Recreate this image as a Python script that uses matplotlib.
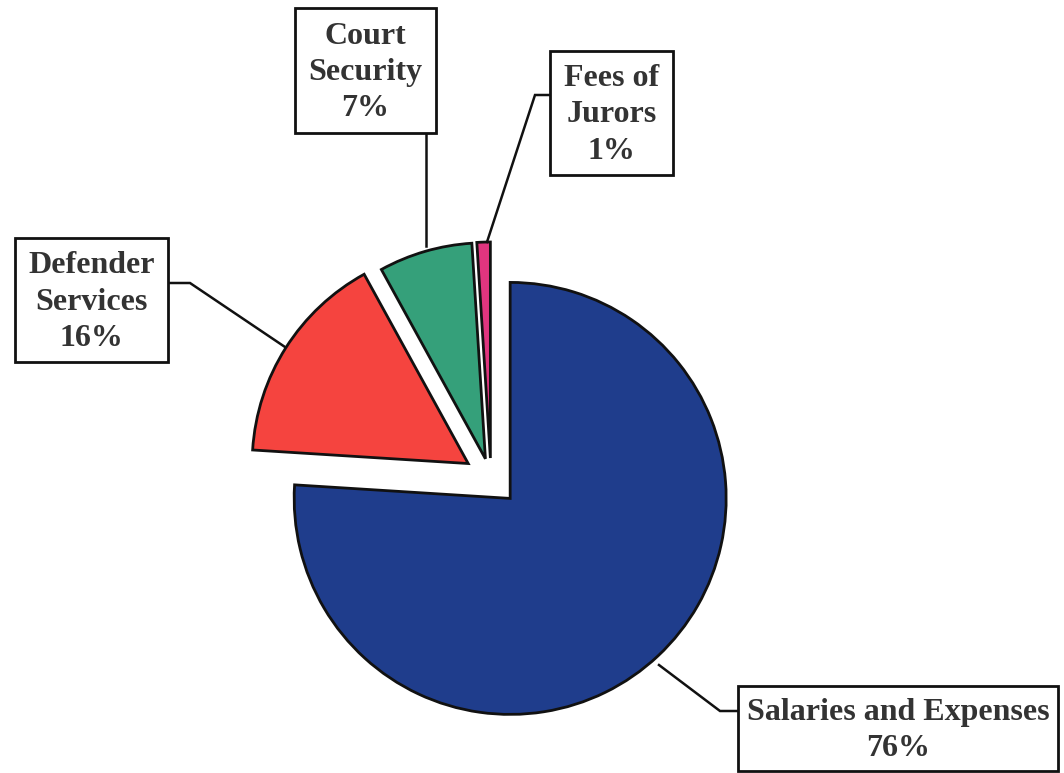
import matplotlib.pyplot as plt
from matplotlib.patches import Rectangle

W, H = 1064, 773

labels = ["Salaries and Expenses", "Defender\nServices", "Court\nSecurity", "Fees of\nJurors"]
shares = [76, 16, 7, 1]
colors = ["#1f3d8c", "#f5443f", "#35a07a", "#e0357f"]
explode = [28, 27, 20, 20]  # in pixels, pie does not scale it by radius

# label boxes in picture pixels: left, top, right, bottom
boxes = [(738, 686, 1058, 771), (15, 238, 168, 362), (295, 8, 436, 133), (550, 51, 673, 175)]
# leader lines in picture pixels
leaders = [
    [(738, 711), (720, 711), (659, 665)],
    [(168, 283), (190, 283), (285, 347)],
    [(426, 133), (426, 246)],
    [(550, 95), (535, 95), (487, 242)],
]


def py(y):
    return H - y


fig = plt.figure(figsize=(W / 100, H / 100), dpi=100)
ax = fig.add_axes([0, 0, 1, 1])

ax.pie(shares, colors=colors, startangle=90, counterclock=False,
       center=(491, py(478)), radius=216, explode=explode,
       wedgeprops=dict(edgecolor="#111111", linewidth=2))

for lab, s, (x0, y0, x1, y1), pts in zip(labels, shares, boxes, leaders):
    ax.plot([p[0] for p in pts], [py(p[1]) for p in pts], color="#111111", lw=1.8,
            solid_joinstyle="miter")
    ax.add_patch(Rectangle((x0, py(y1)), x1 - x0, y1 - y0, facecolor="white",
                           edgecolor="#111111", lw=2, zorder=3))
    ax.text((x0 + x1) / 2, py((y0 + y1) / 2 + 2), f"{lab}\n{s}%", ha="center", va="center",
            fontsize=23, fontweight="bold", family="Liberation Serif", color="#333333",
            linespacing=1.33, zorder=4)

ax.set_xlim(0, W)
ax.set_ylim(0, H)
ax.set_aspect("equal")
ax.axis("off")

fig.savefig("out.png", dpi=100, facecolor="white")
